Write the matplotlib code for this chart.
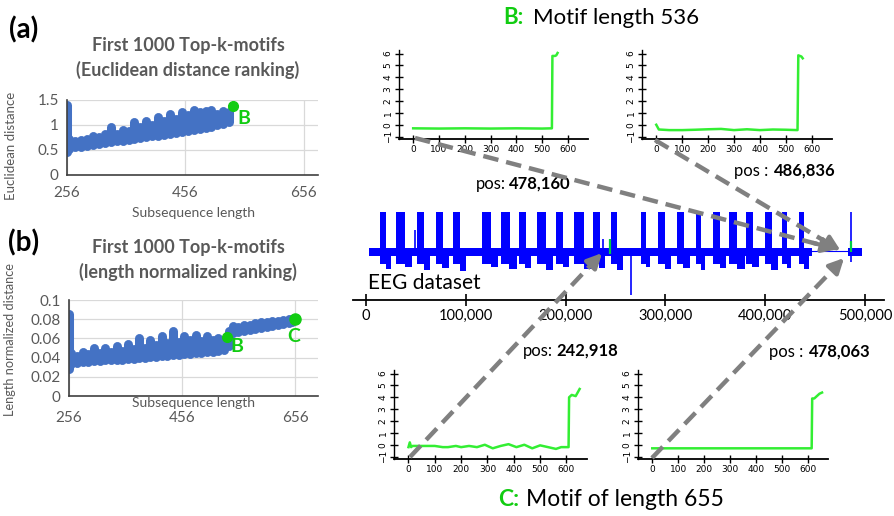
import matplotlib
matplotlib.use("Agg")
import matplotlib.pyplot as plt
import numpy as np
from matplotlib.ticker import FuncFormatter

W, H = 894, 516

# ---- panel (a): Euclidean distance ranking (min/max distance per length) ----
a_len = [256, 260, 270, 280, 290, 300, 310, 320, 330, 340, 350, 360, 370, 380, 390,
         400, 410, 420, 430, 440, 450, 460, 470, 480, 490, 500, 510, 520, 530]
a_lo = [0.45, 0.52, 0.55, 0.56, 0.58, 0.60, 0.62, 0.63, 0.65, 0.67, 0.68, 0.70, 0.72, 0.73, 0.75,
        0.77, 0.78, 0.80, 0.82, 0.84, 0.86, 0.88, 0.90, 0.92, 0.94, 0.96, 0.99, 1.02, 1.06]
a_hi = [1.40, 0.72, 0.68, 0.70, 0.72, 0.78, 0.76, 0.82, 0.95, 0.82, 0.90, 0.88, 1.05, 0.95, 1.08,
        1.00, 1.15, 1.08, 1.22, 1.12, 1.25, 1.20, 1.30, 1.25, 1.28, 1.30, 1.22, 1.28, 1.25]
a_B = (536, 1.37)

# ---- panel (b): length normalized ranking ----
b_len = [256, 260, 270, 280, 290, 300, 310, 320, 330, 340, 350, 360, 370, 380, 390, 400,
         410, 420, 430, 440, 450, 460, 470, 480, 490, 500, 510, 520, 530, 538,
         545, 555, 565, 575, 585, 595, 605, 615, 625, 635, 645, 650]
b_lo = [0.028, 0.033, 0.034, 0.035, 0.035, 0.036, 0.036, 0.037, 0.037, 0.038, 0.038, 0.039,
        0.039, 0.040, 0.040, 0.041, 0.041, 0.042, 0.042, 0.043, 0.043, 0.044, 0.044, 0.045,
        0.045, 0.046, 0.046, 0.047, 0.048, 0.052,
        0.066, 0.067, 0.068, 0.069, 0.070, 0.071, 0.072, 0.073, 0.074, 0.075, 0.076, 0.077]
b_hi = [0.085, 0.045, 0.042, 0.046, 0.044, 0.050, 0.045, 0.050, 0.046, 0.052, 0.047, 0.054,
        0.049, 0.060, 0.050, 0.058, 0.053, 0.062, 0.055, 0.068, 0.056, 0.063, 0.058, 0.064,
        0.057, 0.063, 0.058, 0.060, 0.058, 0.068,
        0.073, 0.072, 0.074, 0.074, 0.076, 0.077, 0.077, 0.078, 0.078, 0.079, 0.080, 0.080]
b_B = (536, 0.061)
b_C = (655, 0.080)

# ---- EEG dataset (bursts, in thousands of samples) ----
burst_x = [17.2, 34.8, 54.6, 73.5, 90.9, 120.9, 139.8, 156.4, 176.0, 194.3, 213.3, 230.6,
           248.5, 277.8, 296.0, 315.0, 333.0, 351.5, 367.7, 384.0, 403.0, 419.0, 436.5]
burst_w = [5.9, 8.6, 6.9, 6.9, 6.9, 8.6, 8.6, 6.9, 8.6, 6.9, 10.4, 6.9,
           6.9, 5.2, 6.9, 6.9, 5.2, 6.9, 8.6, 6.9, 6.9, 5.2, 5.2]
tail_depth = [-17, -15, -18, -16, -19, -15, -17, -16, -18, -15, -17, -16,
              -18, -15, -17, -16, -18, -16, -17, -15, -18, -16, -17]
burst_top = 40
burst_bot = -12
eeg_segments = [(3, 447), (483, 497)]
gap_line = (447, 483)
spikes_x = [49.4, 237.0, 266.0, 486.0]
spikes_lo = [0, 0, -43, -10]
spikes_hi = [22, 13, 0, 40]
green_x = [244.0, 486.0]
green_lo = [-2, 0]
green_hi = [13, 11]
eeg_ticks = [0, 100000, 200000, 300000, 400000, 500000]

# ---- motif shapes ----
m_b1_x = [0, 100, 200, 300, 400, 500, 538, 540, 550, 555, 560]
m_b1_y = [-0.3, -0.32, -0.3, -0.32, -0.3, -0.32, -0.3, 5.8, 5.8, 5.85, 6.05]
m_b2_x = [0, 10, 50, 100, 150, 200, 250, 300, 350, 400, 450, 500, 545, 548, 560, 565]
m_b2_y = [0.0, -0.4, -0.45, -0.45, -0.42, -0.38, -0.35, -0.45, -0.38, -0.45, -0.4, -0.42,
          -0.45, 5.85, 5.75, 5.6]
m_c1_x = [0, 5, 10, 15, 50, 100, 130, 150, 180, 200, 230, 260, 290, 320, 350, 380, 410,
          440, 470, 500, 530, 560, 580, 608, 610, 620, 635, 645, 650]
m_c1_y = [-0.2, 0.2, -0.2, -0.1, -0.1, -0.1, -0.2, -0.2, -0.1, -0.2, -0.1, -0.2, 0.0,
          -0.3, -0.1, 0.05, -0.2, 0.0, -0.3, -0.05, -0.2, -0.35, -0.2, -0.2, 4.0, 4.2,
          4.1, 4.5, 4.7]
m_c2_x = [0, 100, 200, 300, 400, 500, 615, 617, 625, 635, 645, 655]
m_c2_y = [-0.3, -0.3, -0.3, -0.3, -0.3, -0.3, -0.3, 3.9, 3.9, 4.1, 4.3, 4.4]

BLUE = "#4472C4"
GREEN = "#11CC11"
LGREEN = "#33EE33"
GRAY = "#595959"

plt.rcParams["font.family"] = ["Lato", "DejaVu Sans"]

fig = plt.figure(figsize=(W / 100, H / 100), dpi=100)


def box(l, t, r, b):
    return [l / W, 1 - b / H, (r - l) / W, (b - t) / H]


def ftext(x, y, s, **kw):
    fig.text(x / W, 1 - y / H, s, **kw)


def excel_axes(ax):
    for s in ["top", "right"]:
        ax.spines[s].set_visible(False)
    ax.spines["left"].set_color("#404040")
    ax.spines["bottom"].set_color("#404040")
    ax.spines["left"].set_linewidth(1.2)
    ax.spines["bottom"].set_linewidth(1.2)
    ax.grid(True, color="#d9d9d9", lw=0.9)
    ax.set_axisbelow(True)
    ax.tick_params(length=0, labelsize=11, colors=GRAY, pad=8)


# panel (a)
ax = fig.add_axes(box(67, 100, 318, 175))
ax.vlines(a_len, a_lo, a_hi, color=BLUE, lw=6.5, capstyle="round")
ax.plot(*a_B, "o", color=GREEN, ms=7, zorder=5)
ax.set_xlim(256, 680)
ax.set_ylim(0, 1.5)
ax.set_xticks([256, 456, 656])
ax.set_yticks([0, 0.5, 1, 1.5])
ax.set_yticklabels(["0", "0.5", "1", "1.5"])
excel_axes(ax)
ax.tick_params(axis="y", pad=6)
ax.text(a_B[0] + 7, a_B[1] - 0.24, "B", color=GREEN, fontsize=14, fontweight="bold",
        ha="left", va="center")

ftext(24, 30, "(a)", fontsize=20, fontweight="bold", ha="center", va="center")
ftext(188, 45, "First 1000 Top-k-motifs", fontsize=13, fontweight="bold", color=GRAY,
      ha="center", va="center")
ftext(188, 70, "(Euclidean distance ranking)", fontsize=13, fontweight="bold", color=GRAY,
      ha="center", va="center")
ftext(11, 146, "Euclidean distance", fontsize=9.5, color=GRAY, rotation=90,
      ha="center", va="center")
ftext(193, 213, "Subsequence length", fontsize=10, color=GRAY, ha="center", va="center")

# panel (b)
ax = fig.add_axes(box(69, 300, 318, 396))
ax.vlines(b_len, b_lo, b_hi, color=BLUE, lw=6.5, capstyle="round")
ax.plot(*b_B, "o", color=GREEN, ms=7, zorder=5)
ax.plot(*b_C, "o", color=GREEN, ms=8, zorder=5)
ax.set_xlim(256, 696)
ax.set_ylim(0, 0.1)
ax.set_xticks([256, 456, 656])
ax.set_yticks([0, 0.02, 0.04, 0.06, 0.08, 0.1])
ax.set_yticklabels(["0", "0.02", "0.04", "0.06", "0.08", "0.1"])
excel_axes(ax)
ax.tick_params(axis="y", pad=6)
ax.tick_params(axis="x", pad=11)
ax.text(b_B[0] + 6, b_B[1] - 0.009, "B", color=GREEN, fontsize=14, fontweight="bold",
        ha="left", va="center")
ax.text(b_C[0] - 2, b_C[1] - 0.018, "C", color=GREEN, fontsize=14, fontweight="bold",
        ha="center", va="center")

ftext(24, 243, "(b)", fontsize=20, fontweight="bold", ha="center", va="center")
ftext(188, 247, "First 1000 Top-k-motifs", fontsize=13, fontweight="bold", color=GRAY,
      ha="center", va="center")
ftext(188, 272, "(length normalized ranking)", fontsize=13, fontweight="bold", color=GRAY,
      ha="center", va="center")
ftext(10, 340, "Length normalized distance", fontsize=9.2, color=GRAY, rotation=90,
      ha="center", va="center")
ftext(193, 403, "Subsequence length", fontsize=10, color=GRAY, ha="center", va="center")

# EEG dataset
ax = fig.add_axes(box(353, 205, 884, 299.5))
xs = np.array(burst_x) * 1000
ws = np.array(burst_w) * 1000
for s0, s1 in eeg_segments:
    ax.fill_between([s0 * 1000, s1 * 1000], -4, 4, color="#0000FF", lw=0)
ax.plot([gap_line[0] * 1000, gap_line[1] * 1000], [1, 1], color="#0000FF", lw=0.8)
ax.bar(xs, burst_top - burst_bot, width=ws, bottom=burst_bot, color="#0000FF", lw=0)
ax.bar(xs + ws * 0.9, np.array(tail_depth), width=ws * 0.9, bottom=0, color="#0000FF", lw=0)
ax.vlines(np.array(spikes_x) * 1000, spikes_lo, spikes_hi, color="#0000FF", lw=1.2)
ax.vlines(np.array(green_x) * 1000, green_lo, green_hi, color="#00CC44", lw=1.6, zorder=4)
ax.set_xlim(-13000, 519000)
ax.set_ylim(-47.5, 47)
for s in ["top", "right", "left"]:
    ax.spines[s].set_visible(False)
ax.spines["bottom"].set_linewidth(1.3)
ax.set_yticks([])
ax.set_xticks(eeg_ticks)
ax.xaxis.set_major_formatter(FuncFormatter(lambda v, p: f"{int(v):,}"))
ax.tick_params(axis="x", direction="inout", length=9, width=1.2, labelsize=10.5, pad=2)
ax.patch.set_alpha(0)
ftext(368, 283, "EEG dataset", fontsize=15, ha="left", va="center")


# motif plots
def motif_axes(l, t, r, b, xs_, ys_):
    m = fig.add_axes(box(l, t, r, b))
    m.plot(xs_, ys_, color=LGREEN, lw=1.8)
    m.set_xlim(-55, 678)
    m.set_ylim(-1.2, 6.3)
    m.set_xticks(range(0, 700, 100))
    m.set_yticks(range(-1, 7))
    for s in ["top", "right"]:
        m.spines[s].set_visible(False)
    m.spines["left"].set_linewidth(1.0)
    m.spines["bottom"].set_linewidth(1.3)
    m.tick_params(direction="inout", length=6, width=1.0, labelsize=6.5, pad=1.5,
                  labelfontfamily="DejaVu Sans")
    for lab in m.get_yticklabels():
        lab.set_rotation(90)
        lab.set_va("center")
    m.patch.set_alpha(0)
    return m


motif_axes(399, 50, 588, 139, m_b1_x, m_b1_y)
motif_axes(642, 50, 832, 139, m_b2_x, m_b2_y)
motif_axes(394, 370, 587, 459, m_c1_x, m_c1_y)
motif_axes(638, 370, 828, 459, m_c2_x, m_c2_y)

# headers and positions
ftext(503, 18, "B:", fontsize=16, fontweight="bold", color=GREEN, ha="left", va="center")
ftext(533, 18, "Motif length 536", fontsize=16, ha="left", va="center")
ftext(498, 500, "C:", fontsize=16.5, fontweight="bold", color=GREEN, ha="left", va="center")
ftext(526, 500, "Motif of length 655", fontsize=16.5, ha="left", va="center")

for x0, y0, lab, num in [(476, 184, "pos:", "478,160"), (734, 171, "pos :", "486,836"),
                         (523, 351, "pos:", "242,918"), (769, 352, "pos :", "478,063")]:
    ftext(x0, y0, lab, fontsize=12, ha="left", va="center")
    ftext(x0 + (33 if lab == "pos:" else 40), y0, num, fontsize=12, fontweight="bold",
          ha="left", va="center")

# dashed arrows from motif origins to the dataset
arrows = [((415, 138), (840, 250)), ((655, 140), (843, 252)),
          ((410, 457), (604, 251)), ((652, 458), (846, 256))]
for (x0, y0), (x1, y1) in arrows:
    fig.add_artist(plt.Line2D([x0 / W, x1 / W - (x1 - x0) * 0.04 / W],
                              [1 - y0 / H, 1 - (y1 + (y0 - y1) * 0.04) / H],
                              transform=fig.transFigure, color="#808080", lw=3.2,
                              linestyle=(0, (3.5, 1.8)), zorder=10))
    fig.add_artist(matplotlib.patches.FancyArrowPatch(
        (x1 / W - (x1 - x0) * 0.07 / W, 1 - (y1 + (y0 - y1) * 0.07) / H),
        (x1 / W, 1 - y1 / H), transform=fig.transFigure, arrowstyle="-|>",
        mutation_scale=22, color="#808080", lw=3, zorder=10))

fig.savefig("out.png", dpi=100)
